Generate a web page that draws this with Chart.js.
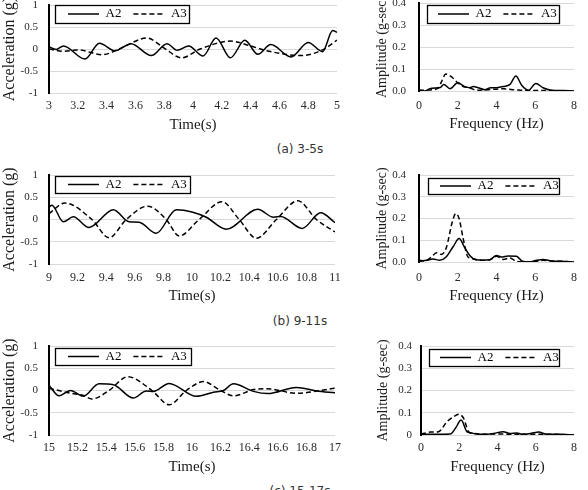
<!DOCTYPE html>
<html><head><meta charset="utf-8">
<script src="https://cdn.jsdelivr.net/npm/chart.js@4/dist/chart.umd.min.js"></script>
<style>
html,body{margin:0;padding:0;background:#fff}
body{position:relative;width:588px;height:490px;overflow:hidden}
canvas{position:absolute}
.cap{position:absolute;left:200px;width:200px;text-align:center;font:12px 'DejaVu Sans',sans-serif;line-height:14px;color:#333;white-space:nowrap}
</style></head>
<body>
<canvas id="p1" width="345" height="135" style="left:0;top:0"></canvas>
<canvas id="p2" width="218" height="135" style="left:370px;top:0"></canvas>
<canvas id="p3" width="345" height="150" style="left:0;top:160px"></canvas>
<canvas id="p4" width="218" height="150" style="left:370px;top:160px"></canvas>
<canvas id="p5" width="345" height="150" style="left:0;top:330px"></canvas>
<canvas id="p6" width="218" height="150" style="left:370px;top:330px"></canvas>
<div class="cap" style="top:142px">(a) 3-5s</div>
<div class="cap" style="top:314px">(b) 9-11s</div>
<div class="cap" style="top:484px">(c) 15-17s</div>
<script>
// ---------- data ----------
const seriesNames = ['A2', 'A3'];
const accTicks = [-1, -0.5, 0, 0.5, 1];
const ampTicks = [0, 0.1, 0.2, 0.3, 0.4];
const ampLabelsAB = ['0.0', '0.1', '0.2', '0.3', '0.4'];
const ampLabelsC = ['0', '0.1', '0.2', '0.3', '0.4'];
const freqTicks = [0, 2, 4, 6, 8];
const timeTicksA = [3, 3.2, 3.4, 3.6, 3.8, 4, 4.2, 4.4, 4.6, 4.8, 5];
const timeTicksB = [9, 9.2, 9.4, 9.6, 9.8, 10, 10.2, 10.4, 10.6, 10.8, 11];
const timeTicksC = [15, 15.2, 15.4, 15.6, 15.8, 16, 16.2, 16.4, 16.6, 16.8, 17];

// (a) 3-5 s
const aTimeA2 = [3.00, 3.05, 3.10, 3.25, 3.35, 3.46, 3.57, 3.71, 3.82, 3.89, 3.97, 4.07, 4.16, 4.26, 4.36, 4.45, 4.54, 4.68, 4.80, 4.90, 4.97, 5.00];
const aAccA2  = [0.05, -0.01, 0.07, -0.23, 0.13, -0.04, 0.12, -0.15, 0.12, -0.03, 0.07, -0.16, 0.25, -0.20, 0.20, -0.12, 0.10, -0.18, 0.15, -0.06, 0.42, 0.38];
const aTimeA3 = [3.00, 3.10, 3.20, 3.37, 3.50, 3.68, 3.80, 3.92, 4.05, 4.26, 4.40, 4.50, 4.75, 4.90, 5.00];
const aAccA3  = [0.00, -0.05, -0.02, -0.13, 0.02, 0.25, 0.02, -0.20, 0.00, 0.18, 0.07, -0.03, -0.15, -0.02, 0.20];
const aFreqA2 = [0, 0.3, 0.55, 0.9, 1.1, 1.28, 1.6, 2.0, 2.36, 2.62, 2.8, 3.05, 3.4, 3.7, 4.0, 4.35, 4.7, 5.0, 5.3, 5.65, 6.03, 6.4, 6.85, 7.4, 8.0];
const aAmpA2  = [0.003, 0.0, 0.01, 0.014, 0.016, 0.03, 0.01, 0.037, 0.02, 0.015, 0.02, 0.015, 0.006, 0.015, 0.015, 0.02, 0.03, 0.068, 0.026, 0.003, 0.034, 0.015, 0.003, 0.002, 0.0];
const aFreqA3 = [0, 0.6, 1.0, 1.15, 1.38, 1.67, 1.97, 2.28, 2.6, 2.97, 3.6, 4.35, 5.0, 5.6, 6.5, 8.0];
const aAmpA3  = [0.003, 0.005, 0.014, 0.04, 0.077, 0.065, 0.04, 0.02, 0.015, 0.003, 0.006, 0.01, 0.005, 0.002, 0.002, 0.0];

// (b) 9-11 s
const bTimeA2 = [9.00, 9.02, 9.10, 9.17, 9.28, 9.45, 9.56, 9.63, 9.75, 9.89, 10.00, 10.10, 10.24, 10.46, 10.57, 10.62, 10.77, 10.90, 11.00];
const bAccA2  = [0.28, 0.32, -0.05, 0.06, -0.18, 0.22, -0.05, -0.06, -0.31, 0.22, 0.17, 0.05, -0.22, 0.23, 0.05, 0.07, -0.20, 0.15, -0.07];
const bTimeA3 = [9.00, 9.11, 9.30, 9.42, 9.54, 9.69, 9.82, 9.91, 10.05, 10.21, 10.33, 10.45, 10.59, 10.74, 10.87, 11.00];
const bAccA3  = [0.13, 0.37, 0.00, -0.41, 0.00, 0.30, 0.00, -0.37, 0.00, 0.40, 0.00, -0.42, 0.00, 0.42, 0.00, -0.28];
const bFreqA2 = [0, 0.4, 0.72, 1.07, 1.4, 1.76, 2.07, 2.36, 2.62, 2.93, 3.3, 3.65, 4.0, 4.26, 4.6, 5.03, 5.34, 5.72, 6.07, 6.4, 6.84, 7.3, 8.0];
const bAmpA2  = [0.003, 0.008, 0.014, 0.008, 0.023, 0.07, 0.108, 0.066, 0.03, 0.01, 0.008, 0.01, 0.03, 0.023, 0.028, 0.026, 0.003, 0.0, 0.008, 0.012, 0.005, 0.003, 0.0];
const bFreqA3 = [0, 0.3, 0.64, 0.9, 1.15, 1.41, 1.72, 1.9, 2.07, 2.28, 2.53, 2.8, 3.14, 3.65, 4.0, 4.35, 4.7, 5.03, 5.5, 6.07, 6.4, 6.9, 7.4, 8.0];
const bAmpA3  = [0.008, 0.005, 0.023, 0.042, 0.035, 0.066, 0.185, 0.223, 0.2, 0.108, 0.023, 0.015, 0.008, 0.01, 0.026, 0.012, 0.018, 0.003, 0.0, 0.003, 0.008, 0.005, 0.003, 0.0];

// (c) 15-17 s
const cTimeA2 = [15.00, 15.07, 15.15, 15.24, 15.35, 15.45, 15.59, 15.68, 15.73, 15.84, 16.03, 16.15, 16.22, 16.29, 16.43, 16.53, 16.73, 16.87, 17.00];
const cAccA2  = [0.12, -0.12, 0.00, -0.13, 0.15, 0.13, -0.17, -0.01, -0.02, 0.16, -0.13, -0.04, 0.00, 0.15, -0.02, -0.07, 0.07, -0.01, -0.05];
const cTimeA3 = [15.00, 15.15, 15.24, 15.30, 15.42, 15.55, 15.72, 15.84, 15.96, 16.08, 16.20, 16.29, 16.43, 16.52, 16.73, 17.00];
const cAccA3  = [0.05, -0.06, -0.11, -0.19, 0.00, 0.31, 0.00, -0.32, 0.00, 0.20, 0.00, -0.12, 0.02, 0.04, -0.06, 0.05];
const cFreqA2 = [0, 0.8, 1.53, 1.8, 2.1, 2.4, 2.6, 2.92, 3.3, 3.8, 4.3, 4.65, 5.0, 5.35, 5.9, 6.14, 6.6, 7.3, 8.0];
const cAmpA2  = [0.003, 0.003, 0.004, 0.03, 0.067, 0.015, 0.01, 0.004, 0.003, 0.007, 0.015, 0.007, 0.009, 0.003, 0.01, 0.013, 0.003, 0.003, 0.0];
const cFreqA3 = [0, 0.5, 0.92, 1.36, 1.7, 1.97, 2.23, 2.49, 2.75, 3.3, 4.0, 4.6, 5.3, 6.0, 7.0, 8.0];
const cAmpA3  = [0.004, 0.013, 0.015, 0.06, 0.082, 0.093, 0.075, 0.015, 0.007, 0.003, 0.005, 0.003, 0.004, 0.003, 0.003, 0.0];

// ---------- rendering ----------
const SERIF = "'Liberation Serif','Times New Roman',serif";
const LEG_PAD = 12, LEG_FONT = 13;
const toPts = (xs, ys) => xs.map((x, i) => ({x: x, y: ys[i]}));

const insideLegend = {
  id: 'insideLegend',
  beforeLayout(chart) {
    const lg = chart.legend;
    if (lg && !lg._zeroPatched) {
      const f = lg.fit;
      lg.fit = function () { f.call(this); this.height = 0; };
      lg._zeroPatched = true;
    }
  },
  afterLayout(chart, args, opts) {
    const lg = chart.legend, b = opts.box;
    lg.left = opts.lineStart - LEG_PAD; lg.right = b.x + b.w + 80; lg.width = lg.right - lg.left;
    lg.top = b.y + b.h / 2 - LEG_PAD - LEG_FONT / 2; lg.bottom = b.y + b.h + 2; lg.height = lg.bottom - lg.top;
  },
  afterDatasetsDraw(chart, args, opts) {
    const ctx = chart.ctx, b = opts.box;
    ctx.save(); ctx.fillStyle = '#fff'; ctx.fillRect(b.x, b.y, b.w, b.h); ctx.restore();
    chart.legend.draw(chart.chartArea);
    ctx.save(); ctx.strokeStyle = '#000'; ctx.lineWidth = 1.3;
    ctx.strokeRect(b.x + 0.5, b.y + 0.5, b.w, b.h); ctx.restore();
  }
};

function legendItems(chart) {
  const items = Chart.defaults.plugins.legend.labels.generateLabels(chart);
  items.forEach(it => {
    const ds = chart.data.datasets[it.datasetIndex];
    it.lineDash = ds.borderDash || [];
    it.lineWidth = ds.borderWidth;
    it.strokeStyle = ds.borderColor;
  });
  return items;
}

function build(id, g, s) {
  const yIsAmp = s.kind === 'freq';
  return new Chart(document.getElementById(id), {
    type: 'line',
    data: { datasets: [
      { label: seriesNames[0], data: toPts(s.x2, s.y2), borderColor: '#000', borderWidth: 1.5,
        pointRadius: 0, cubicInterpolationMode: 'monotone', fill: false },
      { label: seriesNames[1], data: toPts(s.x3, s.y3), borderColor: '#000', borderWidth: 1.5,
        borderDash: [5, 3], pointRadius: 0, cubicInterpolationMode: 'monotone', fill: false }
    ]},
    options: {
      responsive: false, animation: false, events: [],
      layout: { padding: { left: 0, top: g.t, right: g.W - g.r, bottom: 0 } },
      plugins: {
        tooltip: { enabled: false },
        legend: { display: true, position: 'top', align: 'start',
          labels: { usePointStyle: true, pointStyle: 'line', pointStyleWidth: 31, padding: LEG_PAD,
                    color: '#000', font: { family: SERIF, size: LEG_FONT }, generateLabels: legendItems } },
        insideLegend: { box: g.box, lineStart: g.ls }
      },
      scales: {
        x: {
          type: 'linear', min: s.xTicks[0], max: s.xTicks[s.xTicks.length - 1],
          afterBuildTicks: sc => { sc.ticks = s.xTicks.map(v => ({value: v})); },
          ticks: { autoSkip: false, maxRotation: 0, padding: g.xtp, color: '#2a2a2a',
                   font: { family: SERIF, size: 12 },
                   callback: v => String(Math.round(v * 10) / 10) },
          grid: { display: false, drawTicks: false },
          border: { display: false },
          title: { display: true, text: s.xTitle, color: '#1a1a1a', font: { family: SERIF, size: 15 },
                   padding: { top: 0, bottom: g.xpb } },
          afterFit: sc => { sc.height = g.H - g.b; sc.paddingLeft = 0; sc.paddingRight = 0; }
        },
        y: {
          min: s.yTicks[0], max: s.yTicks[s.yTicks.length - 1],
          afterBuildTicks: sc => { sc.ticks = s.yTicks.map(v => ({value: v})); },
          ticks: { padding: g.ytp, color: '#2a2a2a', font: { family: SERIF, size: 11 },
                   callback: (v, i) => s.yLabels ? s.yLabels[i] : String(v) },
          grid: { color: '#d9d9d9', lineWidth: 1, drawTicks: false },
          border: { display: true, color: '#000', width: 2 },
          title: { display: true, text: s.yTitle, color: '#1a1a1a',
                   font: { family: SERIF, size: yIsAmp ? 14 : 16 },
                   padding: { top: g.ypt, bottom: 0 } },
          afterFit: sc => { sc.width = g.l; sc.paddingTop = 0; sc.paddingBottom = 0; }
        }
      }
    },
    plugins: [insideLegend]
  });
}

const accTitle = 'Acceleration (g)', ampTitle = 'Amplitude (g-sec)';
const timeTitle = 'Time(s)', freqTitle = 'Frequency (Hz)';

build('p1', {W:345, H:135, l:49, r:337, t:5, b:93, ytp:11, xtp:6, xpb:1, ypt:0, ls:68, box:{x:55, y:5, w:134, h:18}},
  {kind:'time', x2:aTimeA2, y2:aAccA2, x3:aTimeA3, y3:aAccA3, xTicks:timeTicksA, yTicks:accTicks, xTitle:timeTitle, yTitle:accTitle});
build('p2', {W:218, H:135, l:49, r:204, t:3, b:91, ytp:13, xtp:8, xpb:2, ypt:3.5, ls:68, box:{x:57, y:5, w:132, h:18}},
  {kind:'freq', x2:aFreqA2, y2:aAmpA2, x3:aFreqA3, y3:aAmpA3, xTicks:freqTicks, yTicks:ampTicks, yLabels:ampLabelsAB, xTitle:freqTitle, yTitle:ampTitle});
build('p3', {W:345, H:150, l:49, r:335, t:15, b:104, ytp:11, xtp:7, xpb:5, ypt:0, ls:68, box:{x:55, y:16, w:135, h:17}},
  {kind:'time', x2:bTimeA2, y2:bAccA2, x3:bTimeA3, y3:bAccA3, xTicks:timeTicksB, yTicks:accTicks, xTitle:timeTitle, yTitle:accTitle});
build('p4', {W:218, H:150, l:49, r:204, t:15, b:102, ytp:13, xtp:9, xpb:5, ypt:3.5, ls:70, box:{x:58, y:18, w:131, h:16}},
  {kind:'freq', x2:bFreqA2, y2:bAmpA2, x3:bFreqA3, y3:bAmpA3, xTicks:freqTicks, yTicks:ampTicks, yLabels:ampLabelsAB, xTitle:freqTitle, yTitle:ampTitle});
build('p5', {W:345, H:150, l:49, r:335, t:16, b:105, ytp:11, xtp:6, xpb:4, ypt:0, ls:68, box:{x:55, y:18, w:136, h:17}},
  {kind:'time', x2:cTimeA2, y2:cAccA2, x3:cTimeA3, y3:cAccA3, xTicks:timeTicksC, yTicks:accTicks, xTitle:timeTitle, yTitle:accTitle});
build('p6', {W:218, H:150, l:51, r:204, t:16, b:105, ytp:9, xtp:6, xpb:4, ypt:4.5, ls:70, box:{x:59, y:19, w:130, h:17}},
  {kind:'freq', x2:cFreqA2, y2:cAmpA2, x3:cFreqA3, y3:cAmpA3, xTicks:freqTicks, yTicks:ampTicks, yLabels:ampLabelsC, xTitle:freqTitle, yTitle:ampTitle});
</script>
</body></html>
